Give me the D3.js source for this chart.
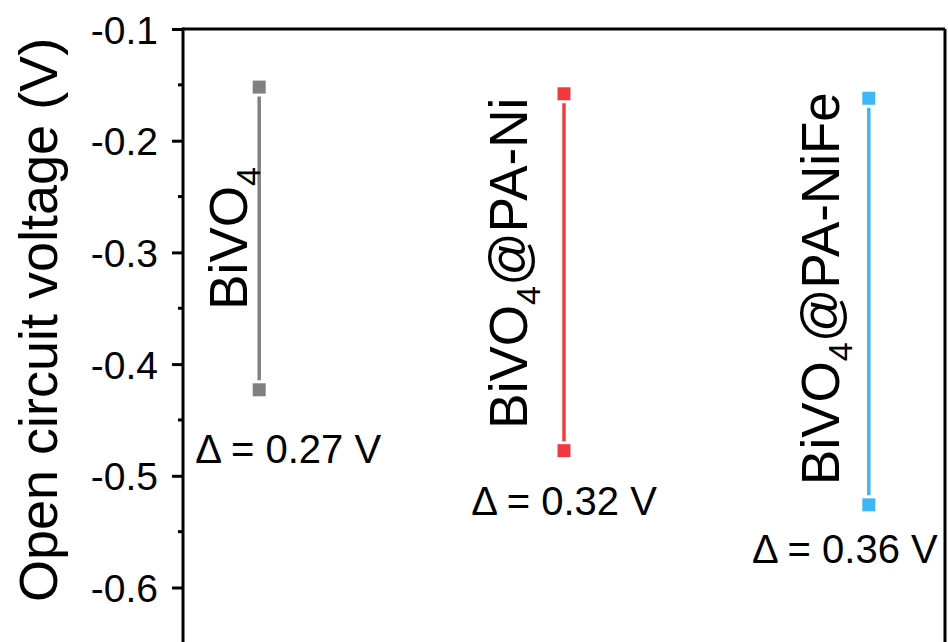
<!DOCTYPE html>
<html>
<head>
<meta charset="utf-8">
<script src="https://cdn.jsdelivr.net/npm/d3@7"></script>
<style>
  body { margin: 0; background: #fff; }
  svg { display: block; font-family: "Liberation Sans", Arial, sans-serif; }
</style>
</head>
<body>
<script>
// Sample names, split so the subscript 4 can be drawn
const samples = ["BiVO4", "BiVO4@PA-Ni", "BiVO4@PA-NiFe"];
const labelHead = ["BiVO", "BiVO", "BiVO"];
const labelTail = ["", "@PA-Ni", "@PA-NiFe"];
// x position of each sample (1, 2, 3)
const samplePos = [1, 2, 3];
// open circuit voltage (V)
const vTop = [-0.152, -0.158, -0.162];
const vBottom = [-0.423, -0.4775, -0.526];
const deltaText = ["\u0394 = 0.27 V", "\u0394 = 0.32 V", "\u0394 = 0.36 V"];
const yTicks = [-0.1, -0.2, -0.3, -0.4, -0.5, -0.6];
const yMinor = [-0.15, -0.25, -0.35, -0.45, -0.55, -0.65];

const colors = ["#808080", "#ef3b3f", "#3fb6f5"];

// hand placed offsets (px) for the sample names and delta labels
const nameDx = [-12, -37, -30];
const nameDy = [0, -9, -13];
const deltaDx = [29, 0, -24];
const deltaDy = [73, 64, 58];

const w = 948, h = 642;
const plotLeft = 183, plotRight = 945, plotTop = 29;

const svg = d3.select("body").append("svg")
  .attr("width", w)
  .attr("height", h);

const x = d3.scaleLinear().domain([0.75, 3.25]).range([plotLeft, plotRight]);
const y = d3.scaleLinear().domain([-0.1, -0.65]).range([plotTop, plotTop + 0.55 * 1117]);

// frame: top and right lines
svg.append("line")
  .attr("x1", plotLeft).attr("x2", plotRight)
  .attr("y1", plotTop).attr("y2", plotTop)
  .style("stroke", "#000").style("stroke-width", 3);
svg.append("line")
  .attr("x1", plotRight).attr("x2", plotRight)
  .attr("y1", plotTop).attr("y2", h)
  .style("stroke", "#000").style("stroke-width", 3);

// left axis with major ticks
const yAxis = svg.append("g")
  .attr("transform", "translate(" + plotLeft + ",0)")
  .call(d3.axisLeft(y).tickValues(yTicks).tickSize(11).tickPadding(14).tickFormat(d3.format(".1f")));
yAxis.select(".domain").attr("d", "M0," + (plotTop - 1.5) + "V" + h).style("stroke-width", 3);
yAxis.selectAll(".tick line").style("stroke-width", 3);
yAxis.selectAll(".tick text")
  .style("font-size", "39px")
  .style("font-family", "Liberation Sans, Arial, sans-serif")
  .attr("dy", "0.36em")
  .text(d => d3.format(".1f")(d).replace("\u2212", "-"));

// minor ticks
svg.append("g").selectAll("line")
  .data(yMinor.filter(v => y(v) < h))
  .enter().append("line")
  .attr("x1", plotLeft - 5).attr("x2", plotLeft)
  .attr("y1", d => y(d)).attr("y2", d => y(d))
  .style("stroke", "#000").style("stroke-width", 3);

// axis title
svg.append("text")
  .attr("transform", "translate(57," + 320 + ") rotate(-90)")
  .attr("text-anchor", "middle")
  .style("font-size", "54px")
  .text("Open circuit voltage (V)");

// range lines and end markers
const m = 13;
const groups = svg.selectAll(".sample")
  .data(samples)
  .enter().append("g")
  .attr("class", "sample");

groups.append("line")
  .attr("x1", (d, i) => x(samplePos[i]))
  .attr("x2", (d, i) => x(samplePos[i]))
  .attr("y1", (d, i) => y(vTop[i]) + m / 2 + 3)
  .attr("y2", (d, i) => y(vBottom[i]) - m / 2 - 3)
  .style("stroke", (d, i) => colors[i])
  .style("stroke-width", 3.5);

groups.append("rect")
  .attr("x", (d, i) => x(samplePos[i]) - m / 2)
  .attr("y", (d, i) => y(vTop[i]) - m / 2)
  .attr("width", m).attr("height", m)
  .style("fill", (d, i) => colors[i]);

groups.append("rect")
  .attr("x", (d, i) => x(samplePos[i]) - m / 2)
  .attr("y", (d, i) => y(vBottom[i]) - m / 2)
  .attr("width", m).attr("height", m)
  .style("fill", (d, i) => colors[i]);

// rotated sample names
const names = groups.append("text")
  .attr("transform", (d, i) => "translate(" + (x(samplePos[i]) + nameDx[i]) + "," +
    (y((vTop[i] + vBottom[i]) / 2) + nameDy[i]) + ") rotate(-90)")
  .attr("text-anchor", "middle")
  .style("font-size", "53px");
names.append("tspan").text((d, i) => labelHead[i]);
names.append("tspan").attr("dy", 13).style("font-size", "34px").text("4");
names.append("tspan").attr("dy", -13).text((d, i) => labelTail[i]);

// delta labels
groups.append("text")
  .attr("x", (d, i) => x(samplePos[i]) + deltaDx[i])
  .attr("y", (d, i) => y(vBottom[i]) + deltaDy[i])
  .attr("text-anchor", "middle")
  .style("font-size", "40px")
  .text((d, i) => deltaText[i]);
</script>
</body>
</html>
